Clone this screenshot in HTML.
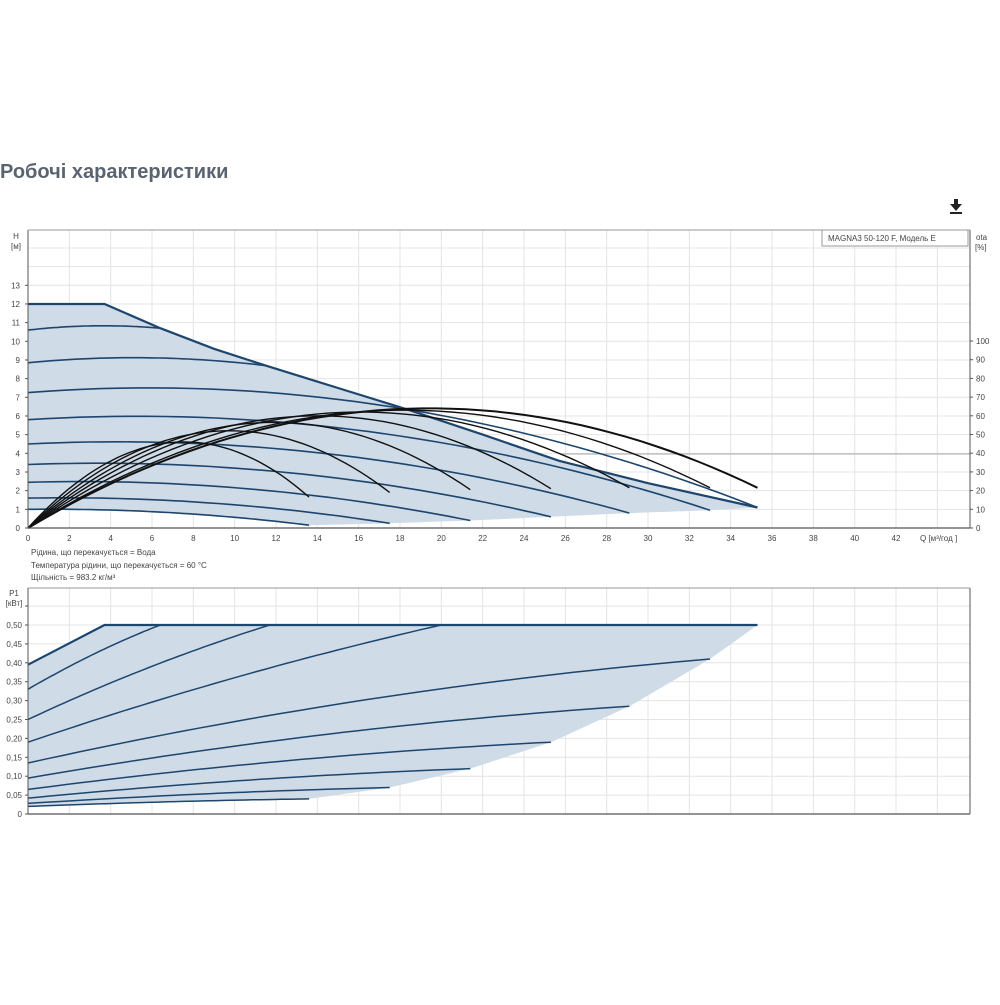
<!DOCTYPE html>
<html><head><meta charset="utf-8"><style>
body{margin:0;background:#fff;width:1000px;height:1000px;overflow:hidden;font-family:"Liberation Sans",sans-serif}
svg text{font-family:"Liberation Sans",sans-serif}
</style></head><body>
<svg id="s" width="1000" height="1000" xmlns="http://www.w3.org/2000/svg">
<text x="0" y="178" font-size="20" font-weight="bold" fill="#5a6470">Робочі характеристики</text>
<g fill="#222"><rect x="954" y="199" width="4" height="6"/><polygon points="950,204 962,204 956,211"/><rect x="950" y="212" width="12" height="2"/></g>
</svg>
<script>
(function(){
var s=document.getElementById('s'),h='';
function X(q){return 28+q*20.667}
function Y1(H){return 528-H*18.67}
function YE(e){return 528-e*1.87}
function Y2(P){return 814-P*378}
function ln(x1,y1,x2,y2,c,w){h+='<line x1="'+x1+'" y1="'+y1+'" x2="'+x2+'" y2="'+y2+'" stroke="'+c+'" stroke-width="'+w+'"/>'}
function tx(x,y,t,a,sz,c){h+='<text x="'+x+'" y="'+y+'" font-size="'+(sz||8)+'" fill="'+(c||'#444')+'" text-anchor="'+(a||'start')+'">'+t+'</text>'}
function pl(pts,c,w,f){h+='<path d="M'+pts.map(function(p){return p[0].toFixed(1)+','+p[1].toFixed(1)}).join('L')+(f?'Z" fill="'+f+'" stroke="none"':'" fill="none" stroke="'+c+'" stroke-width="'+w+'"')+'/>'}
var q,y,i,k,P;
for(q=2;q<=46;q+=2){if(X(q)<970)ln(X(q),230,X(q),528,'#e4e4e4',1)}
for(y=528-18.67;y>230;y-=18.67)ln(28,y,970,y,'#e4e4e4',1);
ln(560,454,970,454,'#aaa',1);
var tp=[[0,12],[3.7,12],[6.4,10.7],[9,9.6],[11.5,8.7],[15,7.5],[18.5,6.3],[22,5.0],[25.7,3.6],[30,2.4],[35.3,1.1]];
var bot=[[35.3,1.1],[33,0.95],[29.1,0.8],[25.3,0.6],[21.4,0.4],[17.5,0.25],[13.6,0.15]];
var H0s=[1.0,1.6,2.45,3.4,4.5,5.8,7.25,8.85,10.6],ends=[13.6,17.5,21.4,25.3,29.1,33,35.3,11.5,6.4];
function bd(q){for(var i=0;i<tp.length-1;i++)if(q<=tp[i+1][0]){var a=tp[i],b=tp[i+1];return a[1]+(b[1]-a[1])*(q-a[0])/(b[0]-a[0])}return 1.1}
var be=[0.15,0.25,0.4,0.6,0.8,0.95,1.1];
function curve(i){var H0=H0s[i],qe=ends[i],He=i<7?be[i]:bd(qe),e=0.012*H0,b=(H0+e*qe-He)/(qe*qe),p=[];for(var k=0;k<=40;k++){var q=qe*k/40;p.push([X(q),Y1(H0+e*q-b*q*q)])}return p}
function m1(p){return [X(p[0]),Y1(p[1])]}
var fill=tp.map(m1).concat(bot.map(m1)).concat(curve(0).reverse());
pl(fill,0,0,'#cfdbe7');
for(i=0;i<9;i++)pl(curve(i),'#1d466e',1.6);
pl(tp.map(m1),'#1d466e',2.2);
var qes=[13.6,17.5,21.4,25.3,29.1,33,35.3],ee=[16.5,19,20.5,21,21.5,21.5,21.5],pk=[46,52,56.5,60,62,63,64];
for(i=0;i<7;i++){var qe=qes[i],Pk=pk[i],r=ee[i]/Pk,u=1+Math.sqrt(1-r),qp=qe/u,p=[];for(k=0;k<=50;k++){q=qe*k/50;var v=q/qp;p.push([X(q),YE(Pk*(2*v-v*v))])}pl(p,'#111',i==6?2:1.4)}
ln(28,230,28,528,'#555',1);ln(28,528,970,528,'#555',1.2);ln(970,230,970,528,'#555',1);ln(28,230,970,230,'#999',1);
for(var H=0;H<=13;H++){tx(20,Y1(H)+3,H,'end');ln(25,Y1(H),28,Y1(H),'#555',1)}
tx(16,239,'H','middle');tx(16,249,'[м]','middle');
for(var e=0;e<=100;e+=10){tx(976,YE(e)+3,e);ln(970,YE(e),973,YE(e),'#555',1)}
tx(976,240,'ota');tx(975,250,'[%]');
for(q=0;q<=42;q+=2)tx(X(q),541,q,'middle');
tx(920,541,'Q [м³/год ]');
h+='<rect x="822" y="230" width="146" height="16" fill="#fff" stroke="#999"/>';tx(828,241,'MAGNA3 50-120 F, Модель E');
tx(31,555,'Рідина, що перекачується = Вода');tx(31,568,'Температура рідини, що перекачується = 60 °C');tx(31,580,'Щільність = 983.2 кг/м³');
for(q=2;q<=46;q+=2){if(X(q)<970)ln(X(q),588,X(q),814,'#e4e4e4',1)}
for(P=0.05;P<=0.56;P+=0.05)ln(28,Y2(P),970,Y2(P),'#e4e4e4',1);
var ltop=[[0,0.395],[3.7,0.5],[35.3,0.5]],lb=[[35.3,0.5],[33,0.41],[29.1,0.285],[25.3,0.19],[21.4,0.12],[17.5,0.07],[13.6,0.04]];
var P0=[0.02,0.028,0.042,0.065,0.095,0.135,0.19,0.25,0.33],Pe=[0.04,0.07,0.12,0.19,0.285,0.41,0.5,0.5,0.5],lq=[13.6,17.5,21.4,25.3,29.1,33,20,11.7,6.4];
function lc(i){var p=[];for(var k=0;k<=40;k++){var u=k/40,f=i<6?u*(2-u)*0.45+0.55*u:u*(2-u)*0.2+0.8*u;p.push([X(lq[i]*u),Y2(P0[i]+(Pe[i]-P0[i])*f)])}return p}
function m2(p){return [X(p[0]),Y2(p[1])]}
var lf=ltop.map(m2).concat(lb.map(m2)).concat(lc(0).reverse());
pl(lf,0,0,'#cfdbe7');
for(i=0;i<9;i++)pl(lc(i),'#1d466e',1.5);
pl(ltop.map(m2),'#1d466e',2.2);
ln(28,588,28,814,'#555',1);ln(28,814,970,814,'#555',1.2);ln(970,588,970,814,'#555',1);ln(28,588,970,588,'#999',1);
['0','0,05','0,10','0,15','0,20','0,25','0,30','0,35','0,40','0,45','0,50'].forEach(function(t,i){tx(22,Y2(i*0.05)+3,t,'end');ln(25,Y2(i*0.05),28,Y2(i*0.05),'#555',1)});
tx(14,596,'P1','middle');tx(14,606,'[кВт]','middle');ln(25,606,28,606,'#555',1);
s.insertAdjacentHTML('beforeend',h);
})();
</script>
</body></html>
